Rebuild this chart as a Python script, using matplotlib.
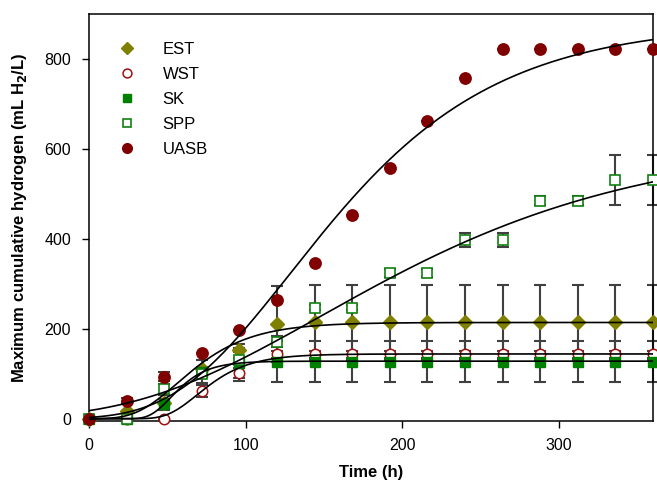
import numpy as np
import matplotlib
matplotlib.use("Agg")
import matplotlib.pyplot as plt
from matplotlib.lines import Line2D

plt.rcParams['font.family'] = ['Liberation Sans', 'DejaVu Sans']

time = [0, 24, 48, 72, 96, 120, 144, 168, 192, 216, 240, 264, 288, 312, 336, 360]

est = [0, 18, 35, 111, 153, 210, 214, 214, 214, 214, 214, 214, 214, 214, 214, 214]
est_err = [0, 0, 0, 5, 5, 84, 84, 84, 84, 84, 84, 84, 84, 84, 84, 84]
wst = [0, 0, 0, 61, 102, 143, 143, 143, 143, 143, 143, 143, 143, 143, 143, 143]
wst_err = [0, 0, 0, 13, 11, 8, 8, 8, 8, 8, 8, 8, 8, 8, 8, 8]
sk = [0, 0, 32, 105, 125, 127, 127, 127, 127, 127, 127, 127, 127, 127, 127, 127]
sk_err = [0, 0, 12, 25, 42, 45, 45, 45, 45, 45, 45, 45, 45, 45, 45, 45]
spp = [0, 0, 65, 100, 130, 171, 247, 247, 324, 324, 398, 397, 485, 485, 531, 531]
spp_err = [0, 0, 12, 5, 5, 12, 5, 5, 10, 10, 16, 15, 10, 10, 56, 56]
uasb = [0, 40, 93, 147, 197, 265, 347, 453, 557, 661, 757, 823, 823, 823, 823, 823]
uasb_err = [0, 5, 10, 0, 0, 0, 0, 0, 0, 0, 0, 0, 0, 0, 0, 0]

# modified Gompertz fits: P (mL/L), Rm (mL/L/h), lambda (h)
fits = {
    'EST': (214, 3.0, 30),
    'WST': (144, 2.8, 50),
    'SK': (128, 3.6, 39),
    'SPP': (620, 1.95, 31),
    'UASB': (880, 4.4, 55),
}

def gompertz(t, P, Rm, lam):
    return P * np.exp(-np.exp(Rm * np.e / P * (lam - t) + 1))

series = [
    ('EST', est, est_err, dict(marker='D', mfc='#808000', mec='#808000', ms=7)),
    ('WST', wst, wst_err, dict(marker='o', mfc='white', mec='#a01010', ms=7.5, mew=1.1)),
    ('SK', sk, sk_err, dict(marker='s', mfc='#008000', mec='#008000', ms=7)),
    ('SPP', spp, spp_err, dict(marker='s', mfc='white', mec='#108010', ms=7.5, mew=1.2)),
    ('UASB', uasb, uasb_err, dict(marker='o', mfc='#800000', mec='#800000', ms=8.2)),
]

fig = plt.figure(figsize=(6.57, 4.82), dpi=100)
ax = fig.add_axes([0.1355, 0.1266, 0.8585, 0.8445])

handles = []
for name, y, err, st in series:
    eb = ax.errorbar(time, y, yerr=err, fmt='none', ecolor='#404040', elinewidth=1.5,
                     capsize=4.2, capthick=1.5, zorder=2)
    for c in eb.lines[1] + eb.lines[2]:
        c.set_clip_on(False)
    ax.plot(time, y, linestyle='none', marker=st['marker'], ms=st['ms'],
            mfc=st['mfc'], mec=st['mec'], mew=st.get('mew', 1.0), zorder=3, clip_on=False)
    handles.append(Line2D([], [], linestyle='none', marker=st['marker'], ms=st['ms'] * 0.85,
                          mfc=st['mfc'], mec=st['mec'], mew=st.get('mew', 1.0), label=name))

tt = np.linspace(0, 360, 400)
for name in fits:
    P, Rm, lam = fits[name]
    ax.plot(tt, gompertz(tt, P, Rm, lam), color='black', lw=1.2, zorder=4)

ax.set_xlim(0, 360)
ax.set_ylim(-5, 900)
ax.set_xticks([0, 100, 200, 300])
ax.set_yticks([0, 200, 400, 600, 800])
ax.tick_params(direction='out', length=5, width=1, labelsize=11.5, pad=7)
ax.tick_params(axis='y', pad=8)
for s in ax.spines.values():
    s.set_linewidth(1.1)

ax.set_xlabel('Time (h)', fontsize=12, fontweight='bold', labelpad=9)
ax.set_ylabel('Maximum cumulative hydrogen (mL H$_\\mathbf{2}$/L)', fontsize=12,
              fontweight='bold', labelpad=11)

ax.legend(handles=handles, loc='upper left', bbox_to_anchor=(0.011, 0.968), frameon=False,
          fontsize=12, labelspacing=0.6, handletextpad=1.15, handlelength=2.0)

fig.savefig('out.png', dpi=100)
